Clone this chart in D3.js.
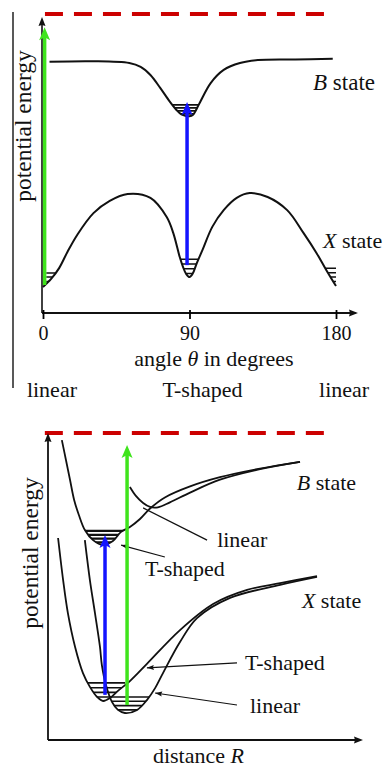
<!DOCTYPE html>
<html>
<head>
<meta charset="utf-8">
<script src="https://cdn.jsdelivr.net/npm/d3@7"></script>
<style>
  body { margin: 0; background: #fff; }
  svg text { font-family: "Liberation Serif", "Times New Roman", serif; fill: #111; }
</style>
</head>
<body>
<div id="chart"></div>
<script>
// ---- top panel: potential energy vs angle theta ----
let thetaTicks = [0, 90, 180];
let geomLabels = ["linear", "T-shaped", "linear"];
let geomLabelTheta = [5.5, 98, 185];

let xStateTheta = [0, 5, 10, 15, 21, 31, 41, 52, 66, 76, 80, 84, 86, 88, 90, 92, 94.5, 98, 104, 111, 119, 127, 138, 150, 160, 168, 174, 180];
let xStateE     = [8.7, 11.4, 15.1, 20.4, 26.1, 33.4, 37.5, 39.8, 38.5, 32.1, 26.8, 18.7, 15.4, 13, 12, 13.2, 16.7, 21.1, 28.8, 34.4, 38.5, 40.1, 38.8, 34.4, 26.8, 20.1, 14.4, 9];

let bStateTheta = [4, 30, 53, 60, 66, 72, 78, 82, 85, 88, 90, 92, 96, 103, 111, 121, 132, 155, 178];
let bStateE     = [84, 84.2, 83.6, 82.3, 79.6, 75.3, 70.6, 67.9, 66.4, 65.9, 65.8, 66.2, 70, 76.9, 81.3, 83.6, 84.6, 84.8, 85];

// vibrational levels (energy) and the angle span they are drawn over
let topLevelsX0   = [10.5, 12, 13.4];
let topLevelsX90  = [13.2, 14.8, 16.4, 18];
let topLevelsX180 = [10.5, 12, 13.5, 15];
let topLevelsB90  = [66.6, 67.6, 68.6, 69.6];

// transitions: angle, from energy, to energy
let topArrowTheta = [1, 88.5];
let topArrowFrom  = [9.4, 16];
let topArrowTo    = [95.6, 70.6];
let arrowColors   = ["#3fe41c", "#1414ff"];

// ---- bottom panel: potential energy vs distance R ----
let bTshapedR = [0.44, 0.57, 0.70, 0.83, 0.98, 1.17, 1.43, 1.75, 2.06, 2.32, 2.60, 2.92, 3.24, 3.71, 4.51, 5.46, 6.73, 8.0];
let bTshapedE = [97.7, 91.2, 84.7, 78.2, 73.3, 68.4, 65.1, 63.5, 64.8, 67.8, 69.4, 72.0, 75.4, 79.0, 82.6, 85.6, 88.4, 90.6];
let bLinearR  = [2.60, 2.79, 3.02, 3.24, 3.49, 3.87, 4.51, 5.46, 6.73, 8.0];
let bLinearE  = [82.4, 79.5, 77.2, 75.9, 75.8, 77.4, 80.6, 84.8, 88.2, 90.6];
let xTshapedR = [0.32, 0.48, 0.63, 0.86, 1.11, 1.33, 1.56, 1.75, 1.97, 2.22, 2.60, 3.14, 4.19, 5.24, 6.32, 7.37, 8.54];
let xTshapedE = [65.8, 52.1, 41.4, 30.3, 21.8, 17.3, 14.0, 12.7, 13.7, 16.0, 19.2, 24.8, 35.8, 44.3, 48.9, 51.1, 53.4];
let xLinearR  = [1.17, 1.33, 1.49, 1.65, 1.71, 1.84, 2.03, 2.22, 2.44, 2.83, 3.14, 3.40, 3.65, 4.19, 4.73, 5.78, 7.37, 8.54];
let xLinearE  = [65.1, 52.1, 41.4, 30.3, 24.4, 17.9, 12.4, 9.8, 8.8, 9.8, 13.0, 16.9, 21.8, 31.9, 39.7, 46.3, 50.5, 53.1];

let botLevelsBT = [64.4, 65.6, 66.8, 68.1];
let botLevelsXT = [14, 15.5, 17, 18.6];
let botLevelsXL = [9.8, 11.2, 12.6, 14];

let botArrowR    = [2.51, 1.81];
let botArrowFrom = [11.4, 14.7];
let botArrowTo   = [96.1, 66.8];

// leader lines for the labels: [R start, E start, R end, E end]
let leaders = [[3.71, 59.6, 2.32, 63.5], [5.05, 65.1, 3.02, 75.6], [6.0, 25.1, 3.14, 23.5], [6.0, 11.4, 3.4, 15.3]];
let leaderHead = [true, false, true, true];

var W = 387, H = 767;
var svg = d3.select("#chart").append("svg").attr("width", W).attr("height", H);
var defs = svg.append("defs");

var xTop = d3.scaleLinear().domain([0, 180]).range([43, 336]);
var yTop = d3.scaleLinear().domain([0, 100]).range([313, 14]);
var xBot = d3.scaleLinear().domain([0, 10]).range([48, 363]);
var yBot = d3.scaleLinear().domain([0, 100]).range([740, 433]);

var curve = d3.curveCatmullRom.alpha(0.5);
function zip(a, b) { return a.map((v, i) => [v, b[i]]); }

function head(x, y, angle, len, half, notch, color) {
    svg.append("path")
        .attr("d", "M0,0 L" + (-len) + "," + (-half) + " L" + (-len + notch) + ",0 L" + (-len) + "," + half + " Z")
        .attr("transform", "translate(" + x + "," + y + ") rotate(" + angle + ")")
        .attr("fill", color);
}

function drawCurve(pts, x, y, w) {
    svg.append("path")
        .attr("d", d3.line().x(d => x(d[0])).y(d => y(d[1])).curve(curve)(pts))
        .attr("fill", "none").attr("stroke", "#111").attr("stroke-width", w)
        .attr("stroke-linejoin", "round");
}

// clip = region above a curve, so level lines stop at the walls
function aboveClip(id, pts, x, y) {
    defs.append("clipPath").attr("id", id).append("path")
        .attr("d", d3.area().x(d => x(d[0])).y0(d => y(d[1])).y1(0).curve(curve)(pts));
}

function levels(clipId, vals, from, to, x, y, w) {
    svg.append("g").attr("clip-path", "url(#" + clipId + ")")
        .selectAll("line").data(vals).join("line")
        .attr("x1", x(from)).attr("x2", x(to))
        .attr("y1", d => y(d)).attr("y2", d => y(d))
        .attr("stroke", "#111").attr("stroke-width", w);
}

function transition(x, yFrom, yTo, color) {
    svg.append("line")
        .attr("x1", x).attr("x2", x).attr("y1", yFrom).attr("y2", yTo + 9)
        .attr("stroke", color).attr("stroke-width", 3.5);
    head(x, yTo, -90, 13, 5.5, 3, color);
}

function label(x, y, parts, size, anchor) {
    let t = svg.append("text").attr("x", x).attr("y", y)
        .style("font-size", size + "px").attr("text-anchor", anchor || "start");
    parts.forEach(p => {
        t.append("tspan").text(p[0]).style("font-style", p[1] ? "italic" : "normal");
    });
    return t;
}

// ================= TOP PANEL =================
var xTopPts = zip(xStateTheta, xStateE);
var bTopPts = zip(bStateTheta, bStateE);

// frame line on the left
svg.append("line").attr("x1", 13).attr("x2", 13).attr("y1", 12).attr("y2", 388)
    .attr("stroke", "#222").attr("stroke-width", 1.5);

// dissociation limit
svg.append("line")
    .attr("x1", xTop(1.2)).attr("x2", xTop(175))
    .attr("y1", yTop(100)).attr("y2", yTop(100))
    .attr("stroke", "#cc0000").attr("stroke-width", 4).attr("stroke-dasharray", "18,11");

// axes
svg.append("line").attr("x1", xTop(0) - 1).attr("x2", xTop(0) - 1)
    .attr("y1", yTop(0)).attr("y2", yTop(98))
    .attr("stroke", "#111").attr("stroke-width", 1.6);
head(xTop(0) - 1, yTop(99), -90, 9, 3.5, 1, "#111");
svg.append("line").attr("x1", xTop(0) - 1).attr("x2", xTop(192))
    .attr("y1", yTop(0)).attr("y2", yTop(0))
    .attr("stroke", "#111").attr("stroke-width", 2);
head(xTop(193.5), yTop(0), 0, 9, 3.5, 1, "#111");

var xAxis = d3.axisBottom(xTop).tickValues(thetaTicks).tickSize(6).tickPadding(7);
svg.append("g")
    .attr("transform", "translate(0," + yTop(0) + ")")
    .call(xAxis)
    .call(g => g.select(".domain").remove())
    .call(g => g.selectAll(".tick line").attr("stroke-width", 1.8).attr("y1", -3))
    .selectAll("text")
    .style("font-size", "20px");

label(xTop(105), 366, [["angle ", false], ["\u03b8", true], [" in degrees", false]], 22, "middle");

svg.selectAll(".geom")
    .data(geomLabels)
    .enter().append("text")
    .attr("x", (d, i) => xTop(geomLabelTheta[i]))
    .attr("y", 397)
    .attr("text-anchor", "middle")
    .style("font-size", "22px")
    .text(d => d);

svg.append("text")
    .attr("transform", "translate(31," + 126 + ") rotate(-90)")
    .attr("text-anchor", "middle")
    .style("font-size", "23.5px")
    .text("potential energy");

// curves + levels
aboveClip("clipTopX", xTopPts, xTop, yTop);
aboveClip("clipTopB", bTopPts, xTop, yTop);
levels("clipTopX", topLevelsX0, 2, 12, xTop, yTop, 1.5);
levels("clipTopX", topLevelsX90, 78, 102, xTop, yTop, 1.5);
levels("clipTopX", topLevelsX180, 165, 180, xTop, yTop, 1.5);
levels("clipTopB", topLevelsB90, 76, 100, xTop, yTop, 1.6);
drawCurve(xTopPts, xTop, yTop, 2);
drawCurve(bTopPts, xTop, yTop, 2);

label(xTop(165.9), yTop(74.6), [["B", true], [" state", false]], 23);
label(xTop(172), yTop(21.7), [["X", true], [" state", false]], 22);

topArrowTheta.forEach((t, i) => {
    transition(xTop(t), yTop(topArrowFrom[i]), yTop(topArrowTo[i]), arrowColors[i]);
});

// ================= BOTTOM PANEL =================
var bT = zip(bTshapedR, bTshapedE);
var bL = zip(bLinearR, bLinearE);
var xT = zip(xTshapedR, xTshapedE);
var xL = zip(xLinearR, xLinearE);

svg.append("line")
    .attr("x1", xBot(-0.1)).attr("x2", xBot(8.9))
    .attr("y1", yBot(100)).attr("y2", yBot(100))
    .attr("stroke", "#cc0000").attr("stroke-width", 4).attr("stroke-dasharray", "18,11");

svg.append("line").attr("x1", xBot(0)).attr("x2", xBot(0))
    .attr("y1", yBot(0)).attr("y2", yBot(97.5))
    .attr("stroke", "#111").attr("stroke-width", 1.8);
head(xBot(0), yBot(100), -90, 9, 3.5, 1, "#111");
svg.append("line").attr("x1", xBot(0)).attr("x2", xBot(9.8))
    .attr("y1", yBot(0)).attr("y2", yBot(0))
    .attr("stroke", "#111").attr("stroke-width", 2);
head(xBot(10), yBot(0), 0, 9, 3.5, 1, "#111");

svg.append("text")
    .attr("transform", "translate(38," + 553 + ") rotate(-90)")
    .attr("text-anchor", "middle")
    .style("font-size", "23.5px")
    .text("potential energy");
label(xBot(3.33), 763, [["distance ", false], ["R", true]], 22);

aboveClip("clipBT", bT, xBot, yBot);
aboveClip("clipXT", xT, xBot, yBot);
aboveClip("clipXL", xL, xBot, yBot);
levels("clipBT", botLevelsBT, 1.0, 2.45, xBot, yBot, 2.2);
levels("clipXT", botLevelsXT, 1.1, 2.45, xBot, yBot, 1.6);
levels("clipXL", botLevelsXL, 1.9, 3.3, xBot, yBot, 1.6);

[bT, bL, xT, xL].forEach(p => drawCurve(p, xBot, yBot, 1.8));

leaders.forEach((l, i) => {
    let x1 = xBot(l[0]), y1 = yBot(l[1]), x2 = xBot(l[2]), y2 = yBot(l[3]);
    svg.append("line").attr("x1", x1).attr("y1", y1).attr("x2", x2).attr("y2", y2)
        .attr("stroke", "#111").attr("stroke-width", 1.2);
    if (leaderHead[i]) {
        let ang = Math.atan2(y2 - y1, x2 - x1) * 180 / Math.PI;
        head(x2, y2, ang, 7, 2.5, 1, "#111");
    }
});

label(xBot(7.9), yBot(81.4), [["B", true], [" state", false]], 22);
label(xBot(8.06), yBot(43), [["X", true], [" state", false]], 22);
label(xBot(5.37), yBot(62.9), [["linear", false]], 22);
label(xBot(3.08), yBot(53.4), [["T-shaped", false]], 22);
label(xBot(6.25), yBot(22.8), [["T-shaped", false]], 22);
label(xBot(6.41), yBot(8.8), [["linear", false]], 22);

botArrowR.forEach((r, i) => {
    transition(xBot(r), yBot(botArrowFrom[i]), yBot(botArrowTo[i]), arrowColors[i]);
});
</script>
</body>
</html>
